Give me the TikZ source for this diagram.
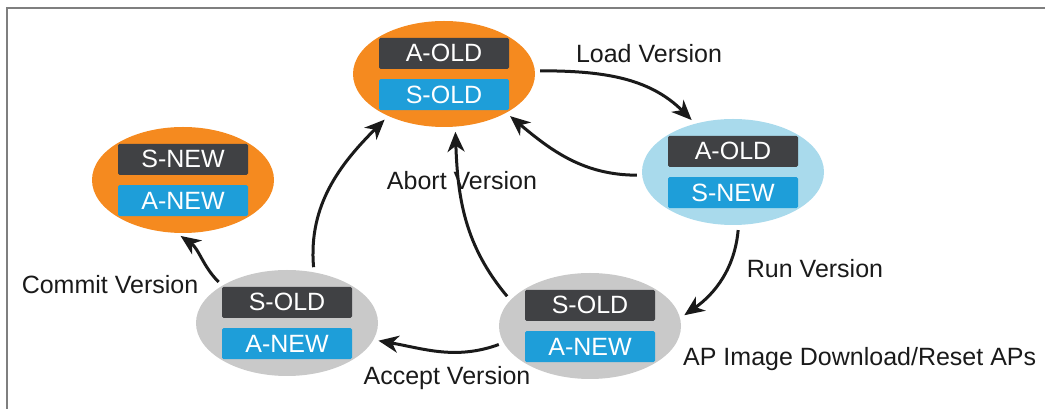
\documentclass[tikz,border=0pt]{standalone}
\usepackage{fontspec}
\setmainfont{Liberation Sans}
\usetikzlibrary{shapes.geometric,arrows.meta,positioning}

\definecolor{stateorange}{HTML}{F58A1F}
\definecolor{statecyan}{HTML}{A9DAEC}
\definecolor{stategray}{HTML}{C9C9C9}
\definecolor{boxdark}{HTML}{404144}
\definecolor{boxblue}{HTML}{1E9ED9}
\definecolor{framegray}{HTML}{7F7F7F}
\definecolor{inkblack}{HTML}{1A1A1A}

\begin{document}
\begin{tikzpicture}[x=1pt,y=1pt,font=\fontsize{25}{30}\selectfont]
\tikzstyle{state} = [ellipse, minimum width=182pt, minimum height=106pt, inner sep=0pt]
\tikzstyle{darkbox} = [rectangle, rounded corners=1.5pt, fill=boxdark, text=white, minimum width=130pt, minimum height=31pt, inner sep=0pt]
\tikzstyle{bluebox} = [darkbox, fill=boxblue]
\tikzstyle{arrow} = [-{Stealth[length=20pt,width=17pt,inset=6pt]}, line width=3pt, draw=inkblack, shorten <=5pt, shorten >=5pt]
\tikzstyle{action} = [text=inkblack, inner sep=0pt]

\useasboundingbox (0,0) rectangle (1045,409);
\draw [framegray, line width=1.3pt] (7,0) -- (7,401) -- (1045,401);

% the five controller states
\node (Original) [state, fill=stateorange] at (444,335) {};
\node (Loaded) [state, fill=statecyan] at (733,237) {};
\node (Running) [state, fill=stategray] at (590,83) {};
\node (Accepted) [state, fill=stategray] at (287,86) {};
\node (Committed) [state, fill=stateorange] at (183,229) {};

\node (OriginalA) [darkbox, above=5pt of Original.center] {A-OLD};
\node (OriginalS) [bluebox, below=5pt of Original.center] {S-OLD};
\node (LoadedA) [darkbox, above=5pt of Loaded.center] {A-OLD};
\node (LoadedS) [bluebox, below=5pt of Loaded.center] {S-NEW};
\node (RunningS) [darkbox, above=5pt of Running.center] {S-OLD};
\node (RunningA) [bluebox, below=5pt of Running.center] {A-NEW};
\node (AcceptedS) [darkbox, above=5pt of Accepted.center] {S-OLD};
\node (AcceptedA) [bluebox, below=5pt of Accepted.center] {A-NEW};
\node (CommittedS) [darkbox, above=5pt of Committed.center] {S-NEW};
\node (CommittedA) [bluebox, below=5pt of Committed.center] {A-NEW};

% transitions
\draw [arrow] (Original.2) to [out=0, in=135] (Loaded.128);
\draw [arrow] (Loaded.182) to [out=180, in=-40] (Original.-32);
\draw [arrow] (Loaded.-84) to [out=-95, in=35] (Running.5);
\draw [arrow] (Running.162) to [out=130, in=-88] (Original.-78);
\draw [arrow] (Running.191) to [out=200, in=-10] (Accepted.-11);
\draw [arrow] (Accepted.62) to [out=95, in=-135] (Original.-143);
\draw [arrow] (Accepted.150) to [out=135, in=-35] (Committed.-97);

\node (LoadVersion) [action] at (649,355) {Load Version};
\node (AbortVersion) [action] at (462,228) {Abort Version};
\node (RunVersion) [action] at (815,140) {Run Version};
\node (APDownload) [action, anchor=west] at (683,50) {AP Image Download/Reset APs};
\node (AcceptVersion) [action] at (447,31) {Accept Version};
\node (CommitVersion) [action] at (110,124) {Commit Version};

\end{tikzpicture}
\end{document}
